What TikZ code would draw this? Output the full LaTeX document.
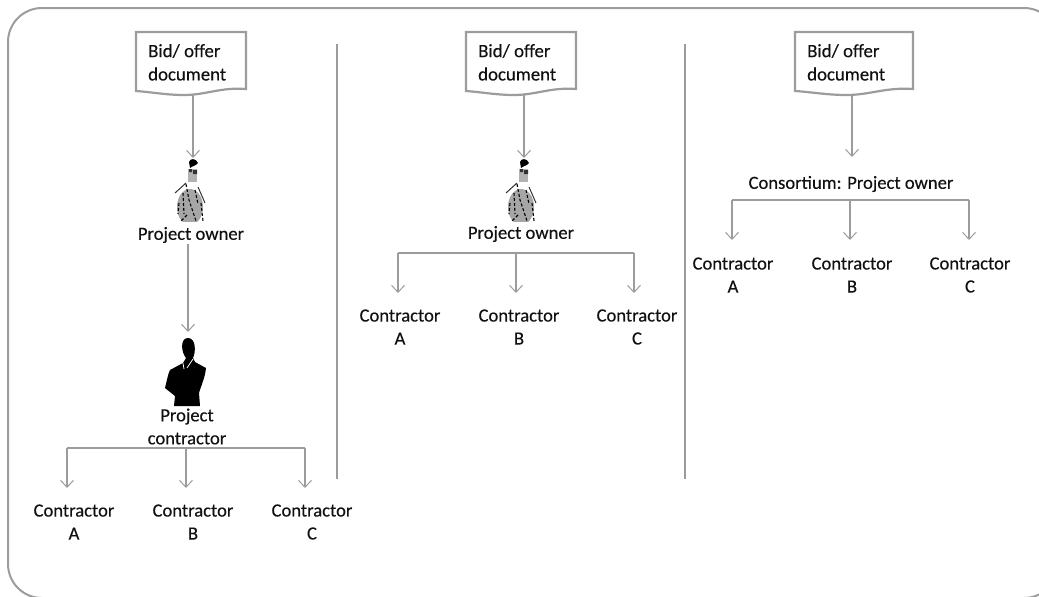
\documentclass[tikz,border=0pt]{standalone}
\usepackage{fontspec}
\setmainfont[FakeBold=0.35]{Carlito}
\usetikzlibrary{arrows.meta}
\definecolor{ln}{HTML}{9C9C9C}
\definecolor{txt}{HTML}{111111}
\tikzset{
 x=1pt,y=-1pt,
 lbl/.style={inner sep=0pt,text=txt,font=\fontsize{18.6}{23}\selectfont,align=center},
 doclbl/.style={inner sep=0pt,text=txt,font=\fontsize{18.8}{23}\selectfont,align=left,anchor=west},
 rule/.style={draw=ln,line width=1.5pt},
 conn/.style={draw=ln,line width=1.1pt,-{Straight Barb[length=7pt,width=13pt,line width=1pt]}},
 branch/.style={draw=ln,line width=1.1pt},
 docshape/.style={draw=ln,line width=2.2pt,fill=white,line join=miter},
}
% #1 width, #2 left x
\newcommand{\docpath}[2][110]{\begin{scope}[shift={(#2,0)},xscale=#1/110]
 \path[docshape] (0,32) -- (110,32) -- (110,89) .. controls (85,87) and (70,95) .. (48,95) .. controls (30,95) and (15,92) .. (0,91) -- cycle;
\end{scope}}
\newcommand{\ownerfig}[1]{\begin{scope}[shift={(#1,0)}]
 \fill[gray!70] (0,207) ellipse (13 and 18);
 \fill[gray!60] (-2,169) rectangle (7,182);
 \fill[black] (-1,162) .. controls (0,158) and (6,158) .. (8,163) .. controls (6,166) and (2,166) .. (0,168) -- cycle;
 \fill[black!80] (-1,169) rectangle (2,172) (3,170) rectangle (7,174);
 \draw[black!80,line width=1pt] (-15,193) -- (-4,183);
 \draw[black!80,line width=1pt] (8,187) -- (15,203);
 \draw[black,line width=1.1pt,dash pattern=on 3pt off 2pt] (-4,184) -- (-1,200) -- (4,215) -- (6,221) (-7,193) -- (-6,214) (5,190) -- (8,204) (-11,203) -- (-12,214) (11,203) -- (13,221) (-3,215) -- (-9,221);
 \fill[white] (-16,222) rectangle (18,226);
\end{scope}}
\newcommand{\suitfig}[1]{\begin{scope}[shift={(#1,0)}]
 \fill[black] (-14,406) -- (-13,396) -- (-23,388) .. controls (-21,380) and (-20,374) .. (-18,370) -- (-5,363) -- (-2,358) .. controls (-7,352) and (-8,338) .. (0,338) .. controls (8,338) and (8,352) .. (5,358) -- (7,362) -- (18,368) .. controls (17,378) and (13,386) .. (11,393) -- (12,406) -- cycle;
 \draw[white,line width=0.8pt] (-5,363) -- (-4,369) (5,359) -- (-1,368);
\end{scope}}
\begin{document}
\begin{tikzpicture}
\useasboundingbox (0,0) rectangle (1039,597);
\draw[draw=ln,line width=2pt,rounded corners=34pt] (8,8) rectangle (1058,598);
\coordinate (r1t) at (337,44); \coordinate (r1b) at (337,479);
\coordinate (r2t) at (685,44); \coordinate (r2b) at (685,479);
\draw[rule] (r1t) -- (r1b);
\draw[rule] (r2t) -- (r2b);

% Panel 1
\docpath{136}
\node[doclbl] (d1) at (148,51) {Bid/ offer};
\node[doclbl] (d1b) at (148,74) {document};
\coordinate (d1s) at (193,95);
\ownerfig{190}
\coordinate (o1t) at (193,158);
\draw[conn] (d1s) -- (o1t);
\node[lbl] (o1) at (191,235) {Project owner};
\coordinate (o1s) at (188,244); \coordinate (c1t) at (188,332);
\draw[conn] (o1s) -- (c1t);
\suitfig{188}
\node[lbl] (pc) at (187,426.5) {Project\\contractor};
\coordinate (b1) at (186,448);
\coordinate (b1l) at (67,448); \coordinate (b1r) at (305,448);
\node[lbl] (a1) at (74,522) {Contractor\\A};
\node[lbl] (a2) at (193,522) {Contractor\\B};
\node[lbl] (a3) at (312,522) {Contractor\\C};
\draw[branch] (b1l) -- (b1r);
\draw[conn] (b1l) -- (67,488);
\draw[conn] (b1) -- (186,488);
\draw[conn] (b1r) -- (305,488);

% Panel 2
\docpath{466}
\node[doclbl] (d2) at (478,51) {Bid/ offer};
\node[doclbl] (d2b) at (478,74) {document};
\ownerfig{521}
\coordinate (d2s) at (524,95); \coordinate (o2t) at (524,158);
\draw[conn] (d2s) -- (o2t);
\node[lbl] (o2) at (521,234) {Project owner};
\coordinate (b2) at (516,253);
\coordinate (b2l) at (398,253); \coordinate (b2r) at (634,253);
\node[lbl] (e1) at (400,327) {Contractor\\A};
\node[lbl] (e2) at (519,327) {Contractor\\B};
\node[lbl] (e3) at (637,327) {Contractor\\C};
\draw[branch] (b2l) -- (b2r);
\draw[conn] (b2l) -- (398,293);
\draw[conn] (b2) -- (516,293);
\draw[conn] (b2r) -- (634,293);

% Panel 3
\docpath[118]{795}
\node[doclbl] (d3) at (807,51) {Bid/ offer};
\node[doclbl] (d3b) at (807,74) {document};
\coordinate (d3s) at (852,95); \coordinate (o3t) at (852,157);
\draw[conn] (d3s) -- (o3t);
\node[lbl] (o3) at (851,184) {Consortium: Project owner};
\coordinate (b3) at (850,200);
\coordinate (b3l) at (732,200); \coordinate (b3r) at (969,200);
\node[lbl] (f1) at (733,275) {Contractor\\A};
\node[lbl] (f2) at (852,275) {Contractor\\B};
\node[lbl] (f3) at (970,275) {Contractor\\C};
\draw[branch] (b3l) -- (b3r);
\draw[conn] (b3l) -- (732,240);
\draw[conn] (b3) -- (850,240);
\draw[conn] (b3r) -- (969,240);
\end{tikzpicture}
\end{document}
